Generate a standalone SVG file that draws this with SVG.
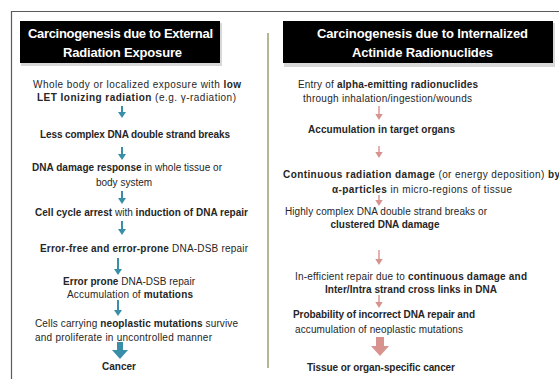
<svg xmlns="http://www.w3.org/2000/svg" width="559" height="379" viewBox="0 0 559 379">
<defs>
<style>
text{font-family:"Liberation Sans",Arial,sans-serif;font-size:10px;fill:#262626}
.b{font-weight:bold}
.m{text-anchor:middle}
.t{font-family:"Liberation Sans",Arial,sans-serif;font-size:13px;font-weight:bold;fill:#fff}
</style>
</defs>
<rect width="559" height="379" fill="#fff"/>
<path d="M11.5,379 V11.5 H559" fill="none" stroke="#5a5a5a" stroke-width="1.2"/>
<line x1="268" y1="33" x2="268" y2="368" stroke="#b5b695" stroke-width="2"/>

<g id="title-left">
<rect x="21" y="23" width="201" height="43" fill="#d8d8d8"/>
<rect x="20" y="21" width="200" height="42" fill="#000"/>
<text class="t" x="28" y="38" textLength="185">Carcinogenesis due to External</text>
<text class="t" x="63" y="57" textLength="119">Radiation Exposure</text>
</g>
<g id="title-right">
<rect x="284" y="23" width="271" height="44" fill="#d8d8d8"/>
<rect x="283" y="21" width="270" height="42" fill="#000"/>
<text class="t" x="317" y="38" textLength="211">Carcinogenesis due to Internalized</text>
<text class="t" x="352" y="57" textLength="141">Actinide Radionuclides</text>
</g>

<g id="L1"><text x="33" y="88" textLength="208">Whole body or localized exposure with <tspan class="b">low</tspan></text>
<text x="37" y="101" textLength="199"><tspan class="b">LET Ionizing radiation</tspan> (e.g. γ-radiation)</text></g>
<g id="L2"><text class="b" x="40" y="138" textLength="190">Less complex  DNA double strand breaks</text></g>
<g id="L3"><text x="32" y="171" textLength="190"><tspan class="b">DNA damage response</tspan> in whole tissue or</text>
<text class="m" x="124" y="186">body system</text></g>
<g id="L4"><text x="35" y="216" textLength="213"><tspan class="b">Cell cycle arrest</tspan> with <tspan class="b">induction of DNA repair</tspan></text></g>
<g id="L5"><text x="40" y="252" textLength="208"><tspan class="b">Error-free and error-prone</tspan> DNA-DSB repair</text></g>
<g id="L6"><text x="63" y="285" textLength="132"><tspan class="b">Error prone</tspan> DNA-DSB repair</text>
<text x="67" y="298" textLength="126">Accumulation of <tspan class="b">mutations</tspan></text></g>
<g id="L7"><text x="35" y="327" textLength="203">Cells carrying <tspan class="b">neoplastic mutations</tspan> survive</text>
<text x="35" y="341" textLength="177">and proliferate in uncontrolled manner</text></g>
<g id="L8"><text class="b m" x="119" y="370">Cancer</text></g>

<g id="R1"><text x="298" y="88" textLength="180">Entry of <tspan class="b">alpha-emitting radionuclides</tspan></text>
<text x="303" y="102" textLength="169">through inhalation/ingestion/wounds</text></g>
<g id="R2"><text class="b" x="308" y="133" textLength="147">Accumulation  in target organs</text></g>
<g id="R3"><text x="283" y="178" textLength="277"><tspan class="b">Continuous radiation damage</tspan> (or energy deposition) <tspan class="b">by</tspan></text>
<text x="332" y="193" textLength="180"><tspan class="b">α-particles</tspan> in micro-regions of tissue</text></g>
<g id="R4"><text x="285" y="215" textLength="202">Highly complex  DNA double strand breaks or</text>
<text class="b m" x="385" y="228">clustered DNA damage</text></g>
<g id="R5"><text x="295" y="280" textLength="232">In-efficient repair due to <tspan class="b">continuous damage and</tspan></text>
<text class="b" x="325" y="293" textLength="172">Inter/Intra strand cross links in DNA</text></g>
<g id="R6"><text class="b" x="293" y="318" textLength="182">Probability of incorrect DNA repair and</text>
<text x="295" y="333" textLength="168">accumulation of neoplastic mutations</text></g>
<g id="R7"><text class="b" x="307" y="371" textLength="148">Tissue or organ-specific cancer</text></g>

<g id="connectors">
<g fill="#3a8fa8">
<path d="M121,106 h2 v6 h3 l-4,6 l-4,-6 h3 z"/>
<path d="M121,147 h2 v7 h3 l-4,6 l-4,-6 h3 z"/>
<path d="M121,191 h2 v7 h3 l-4,6 l-4,-6 h3 z"/>
<path d="M121,221 h2 v8 h3 l-4,6 l-4,-6 h3 z"/>
<path d="M117,258 h2 v11 h3 l-4,6 l-4,-6 h3 z"/>
<path d="M117,300 h2 v10 h3 l-4,6 l-4,-6 h3 z"/>
<path d="M117,342 h6 v8 h5 l-8,9 l-8,-9 h5 z"/>
</g>
<g fill="#d9938f">
<path d="M378.3,106 h1.4 v8 h3 l-3.7,6 l-3.7,-6 h3 z"/>
<path d="M378.3,146 h1.4 v6 h3 l-3.7,6 l-3.7,-6 h3 z"/>
<path d="M378.3,195 h1.4 v5 h3 l-3.7,6 l-3.7,-6 h3 z"/>
<path d="M378.3,250 h1.4 v9 h3 l-3.7,6 l-3.7,-6 h3 z"/>
<path d="M378.3,295 h1.4 v7 h3 l-3.7,6 l-3.7,-6 h3 z"/>
<path d="M376,337 h8 v9 h5 l-9,10 l-9,-10 h5 z"/>
</g>
</g>
</svg>
